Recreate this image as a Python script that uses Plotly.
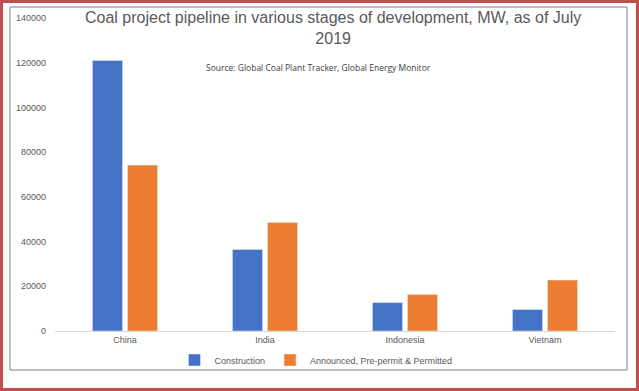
import plotly.graph_objects as go

categories = ["China", "India", "Indonesia", "Vietnam"]
construction = [121000, 36500, 12700, 9600]
announced = [74200, 48500, 16300, 22800]
series_names = ["Construction", "Announced, Pre-permit & Permitted"]
colors = ["#4472C4", "#ED7D31"]

W, H = 639, 391
L, R, T, B = 55, 24, 18, 60
pw, ph = W - L - R, H - T - B

def px(x):
    return (x - L) / pw

def py(y):
    return (H - B - y) / ph

fig = go.Figure()
fig.add_bar(x=categories, y=construction, name=series_names[0], marker_color=colors[0])
fig.add_bar(x=categories, y=announced, name=series_names[1], marker_color=colors[1])

fig.update_layout(
    width=W, height=H,
    margin=dict(l=L, r=R, t=T, b=B),
    paper_bgcolor="white", plot_bgcolor="white",
    barmode="group", bargap=0.5, bargroupgap=0.14,
    font=dict(family="Liberation Sans, Arial, sans-serif", color="#595959", size=10),
    showlegend=True,
    legend=dict(orientation="h", x=px(316), xanchor="center", y=py(360), yanchor="middle",
                font=dict(size=9, color="#595959"), itemwidth=30, traceorder="normal",
                bgcolor="rgba(0,0,0,0)", tracegroupgap=0),
    xaxis=dict(showgrid=False, showline=True, linecolor="#d9d9d9", linewidth=1,
               ticks="", tickfont=dict(size=9, color="#595959")),
    yaxis=dict(range=[0, 140000], dtick=20000, tickformat="d", showgrid=False, showline=False,
               zeroline=False, tickfont=dict(size=9, color="#595959"), ticklabelstandoff=8),
    shapes=[
        dict(type="rect", xref="paper", yref="paper", x0=px(1.5), x1=px(637.5), y0=py(1.5), y1=py(389.5),
             line=dict(color="#C0504D", width=3), layer="above"),
        dict(type="rect", xref="paper", yref="paper", x0=px(10), x1=px(627), y0=py(7), y1=py(370),
             line=dict(color="#7f7f7f", width=1), layer="above"),
    ],
    annotations=[
        dict(text="Coal project pipeline in various stages of development, MW, as of July<br>2019",
             xref="paper", yref="paper", x=px(333), y=py(28), xanchor="center", yanchor="middle",
             showarrow=False, font=dict(size=16, color="#595959", family="Liberation Sans, Arial, sans-serif")),
        dict(text="Source: Global Coal Plant Tracker, Global Energy Monitor",
             xref="paper", yref="paper", x=px(318), y=py(67), xanchor="center", yanchor="middle",
             showarrow=False, font=dict(size=8.5, color="#404040", family="Open Sans, sans-serif")),
    ],
)

fig.write_html("out.html", config={"displayModeBar": False},
               post_script="document.body.style.margin='0';document.body.style.overflow='hidden';")
